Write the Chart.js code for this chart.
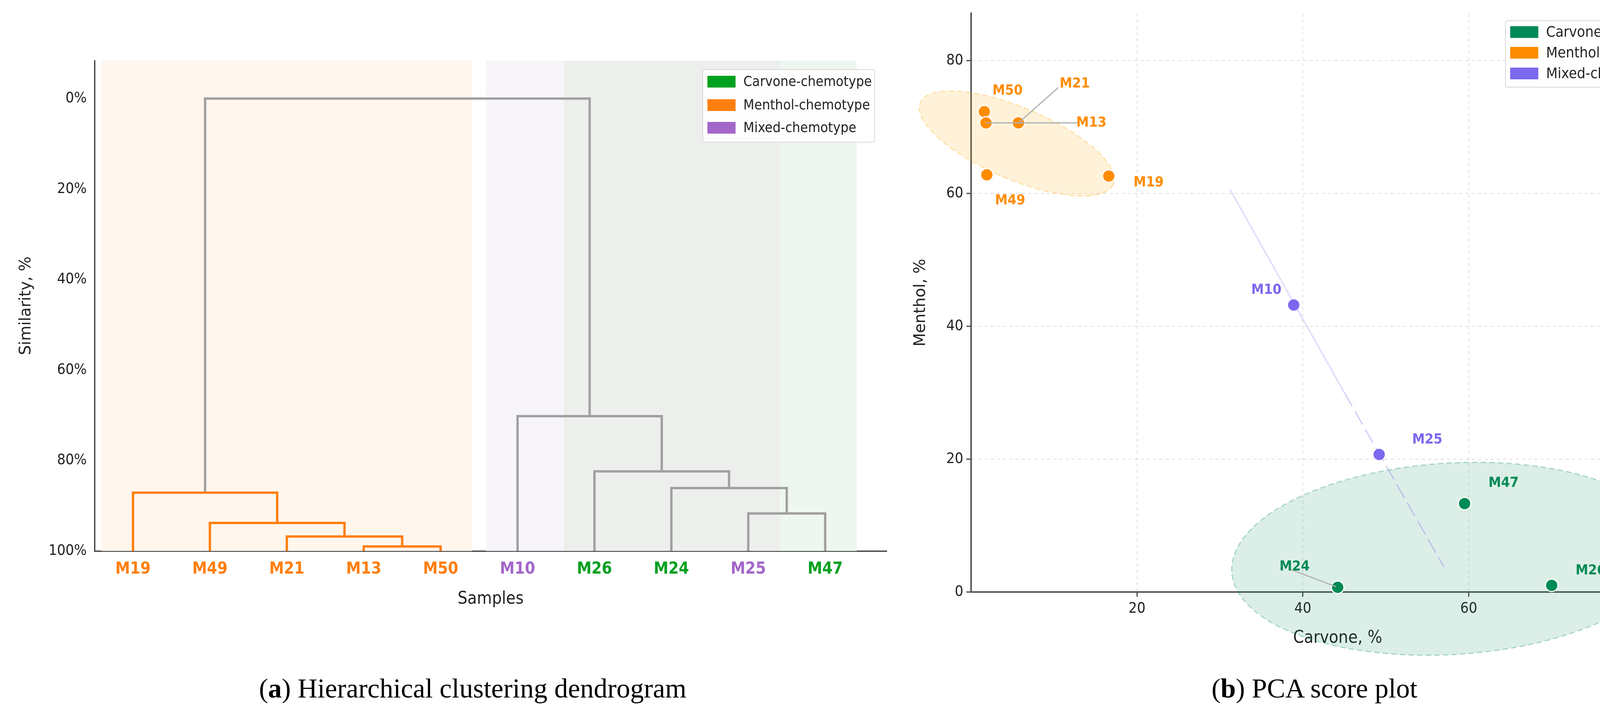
<!DOCTYPE html>
<html>
<head>
<meta charset="utf-8">
<script src="https://cdn.jsdelivr.net/npm/chart.js@4"></script>
<style>
  body { margin: 0; width: 4382px; height: 1840px; background: #fff; position: relative; overflow: hidden; }
  canvas { position: absolute; }
  .cap { position: absolute; top: 1722px; font-family: 'Liberation Serif', serif; font-size: 70px; color: #000; white-space: nowrap; transform: translateX(-50%); }
</style>
</head>
<body>
<canvas id="chartDendro" width="2260" height="1560" style="left:40px;top:0;width:2260px;height:1560px"></canvas>
<canvas id="chartPca" width="2052" height="1700" style="left:2330px;top:0;width:2052px;height:1700px"></canvas>
<div class="cap" style="left:1210px">(<b>a</b>) Hierarchical clustering dendrogram</div>
<div class="cap" style="left:3365px">(<b>b</b>) PCA score plot</div>
<script>
// ---- dendrogram data ----
var leafNames = ['M19', 'M49', 'M21', 'M13', 'M50', 'M10', 'M26', 'M24', 'M25', 'M47'];
var leafGroup = ['Menthol', 'Menthol', 'Menthol', 'Menthol', 'Menthol', 'Mixed', 'Carvone', 'Carvone', 'Mixed', 'Carvone'];
// merges: node ids 0-9 are leaves, 10+ are merges in order
var mergeA = [3, 2, 1, 0, 8, 7, 6, 5, 13];
var mergeB = [4, 10, 11, 12, 9, 14, 15, 16, 17];
var mergeHeight = [99.0, 96.8, 93.8, 87.1, 91.7, 86.1, 82.4, 70.2, 0];
var mergeColor = ['orange', 'orange', 'orange', 'orange', 'grey', 'grey', 'grey', 'grey', 'grey'];
var similarityTicks = [0, 20, 40, 60, 80, 100];
var bandStart = [0.09, 5.09, 6.10, 8.91];
var bandEnd = [4.91, 6.10, 8.91, 9.91];
var bandColor = ['#fff6ee', '#f8f5fa', '#ecefec', '#eef7ef'];

// ---- PCA data ----
var carvoneNames = ['M24', 'M47', 'M26'];
var carvoneX = [44.2, 59.5, 70.0];
var carvoneY = [0.7, 13.3, 1.0];
var mentholNames = ['M50', 'M13', 'M21', 'M49', 'M19'];
var mentholX = [1.6, 1.8, 5.7, 1.9, 16.6];
var mentholY = [72.3, 70.6, 70.6, 62.8, 62.6];
var mixedNames = ['M10', 'M25'];
var mixedX = [38.9, 49.2];
var mixedY = [43.2, 20.7];
var labelNames = ['M50', 'M21', 'M13', 'M19', 'M49', 'M10', 'M25', 'M47', 'M24', 'M26'];
var labelX = [4.4, 12.5, 14.5, 21.4, 4.7, 35.6, 55.0, 64.2, 39.0, 74.7];
var labelY = [75.4, 76.5, 70.6, 61.6, 58.9, 45.4, 22.9, 16.4, 3.8, 3.2];
var labelGroup = ['Menthol', 'Menthol', 'Menthol', 'Menthol', 'Menthol', 'Mixed', 'Mixed', 'Carvone', 'Carvone', 'Carvone'];
var leaderX1 = [5.7, 1.8, 44.0];
var leaderY1 = [70.6, 70.6, 0.8];
var leaderX2 = [10.5, 12.8, 38.5];
var leaderY2 = [75.9, 70.6, 3.4];
var trendX = [31.2, 45.0, 57.0];
var trendY = [60.6, 30.0, 3.8];
var pcaTicks = [0, 20, 40, 60, 80];

var dendroColors = { Menthol: '#ff7f0e', Mixed: '#a366c9', Carvone: '#00a020', orange: '#ff7f0e', grey: '#a0a0a0' };
var pcaColors = { Menthol: '#ff8c00', Mixed: '#7b68ee', Carvone: '#008a55' };
var condensed = "'DejaVu Sans Condensed', 'Liberation Sans Narrow', 'DejaVu Sans', sans-serif";

function drawLegend(ctx, box, rows, names, colors, font) {
    ctx.save();
    ctx.fillStyle = 'rgba(255,255,255,0.85)';
    ctx.strokeStyle = '#d8d8d8';
    ctx.lineWidth = 2;
    ctx.beginPath();
    ctx.roundRect(box[0], box[1], box[2], box[3], 6);
    ctx.fill();
    ctx.stroke();
    ctx.font = font;
    ctx.textBaseline = 'middle';
    for (var i = 0; i < names.length; i++) {
        ctx.fillStyle = colors[i];
        ctx.fillRect(box[0] + 12, rows[i] - 15, 72, 30);
        ctx.fillStyle = '#222';
        ctx.fillText(names[i], box[0] + 104, rows[i] + 2);
    }
    ctx.restore();
}

function getDendrogram() {
    var ctx = document.getElementById('chartDendro').getContext('2d');
    var nodeX = leafNames.map(function (n, i) { return i + 0.5; });
    var nodeH = leafNames.map(function () { return 100; });
    var datasets = [];
    for (var m = 0; m < mergeA.length; m++) {
        var a = mergeA[m], b = mergeB[m], h = mergeHeight[m];
        datasets.push({
            data: [{ x: nodeX[a], y: nodeH[a] }, { x: nodeX[a], y: h }, { x: nodeX[b], y: h }, { x: nodeX[b], y: nodeH[b] }],
            showLine: true, borderColor: dendroColors[mergeColor[m]], borderWidth: 6, pointRadius: 0, fill: false
        });
        nodeX.push((nodeX[a] + nodeX[b]) / 2);
        nodeH.push(h);
    }

    var bandsPlugin = {
        id: 'bands',
        beforeDatasetsDraw: function (chart) {
            var c = chart.ctx, xs = chart.scales.x;
            c.save();
            for (var i = 0; i < bandStart.length; i++) {
                c.fillStyle = bandColor[i];
                var x1 = xs.getPixelForValue(bandStart[i]), x2 = xs.getPixelForValue(bandEnd[i]);
                c.fillRect(x1, chart.chartArea.top, x2 - x1, chart.chartArea.bottom - chart.chartArea.top);
            }
            c.restore();
        },
        afterDraw: function (chart) {
            drawLegend(chart.ctx, [1759, 178, 440, 186], [209, 269, 327],
                ['Carvone-chemotype', 'Menthol-chemotype', 'Mixed-chemotype'],
                [dendroColors.Carvone, dendroColors.Menthol, dendroColors.Mixed], '36px ' + condensed);
        }
    };

    new Chart(ctx, {
        type: 'scatter',
        data: { datasets: datasets },
        plugins: [bandsPlugin],
        options: {
            responsive: false, animation: false, devicePixelRatio: 1,
            layout: { padding: { top: 155, right: 30, left: 0, bottom: 0 } },
            plugins: { legend: { display: false }, tooltip: { enabled: false } },
            scales: {
                x: {
                    type: 'linear', min: 0, max: 10.3,
                    afterBuildTicks: function (s) { s.ticks = leafNames.map(function (n, i) { return { value: i + 0.5 }; }); },
                    afterFit: function (s) { s.height = 150; },
                    grid: { display: false, drawTicks: false },
                    border: { color: '#333', width: 3 },
                    ticks: {
                        padding: 22,
                        font: { family: condensed, size: 42, weight: 'bold' },
                        color: function (c) { return dendroColors[leafGroup[c.index]]; },
                        callback: function (v, i) { return leafNames[i]; }
                    },
                    title: { display: true, text: 'Samples', color: '#222', font: { family: condensed, size: 44 }, padding: 0 }
                },
                y: {
                    type: 'linear', reverse: true, min: -8.4, max: 100,
                    afterBuildTicks: function (s) { s.ticks = similarityTicks.map(function (v) { return { value: v }; }); },
                    afterFit: function (s) { s.width = 202; },
                    grid: { display: false, drawTicks: true, tickLength: 12, tickColor: '#333', tickWidth: 3 },
                    border: { color: '#333', width: 3 },
                    ticks: { padding: 8, color: '#222', font: { family: condensed, size: 38 }, callback: function (v) { return v + '%'; } },
                    title: { display: true, text: 'Similarity, %', color: '#222', font: { family: 'DejaVu Sans', size: 40 }, padding: 4 }
                }
            }
        }
    });
}

function getPca() {
    var ctx = document.getElementById('chartPca').getContext('2d');
    function pts(xs, ys) { return xs.map(function (x, i) { return { x: x, y: ys[i] }; }); }
    var datasets = [];
    for (var i = 0; i < leaderX1.length; i++) {
        datasets.push({ data: [{ x: leaderX1[i], y: leaderY1[i] }, { x: leaderX2[i], y: leaderY2[i] }], showLine: true, borderColor: '#b0b0b0', borderWidth: 3, pointRadius: 0 });
    }
    datasets.push({ data: pts(trendX.slice(0, 2), trendY.slice(0, 2)), showLine: true, borderColor: 'rgba(123,104,238,0.22)', borderWidth: 4, pointRadius: 0 });
    datasets.push({ data: pts(trendX.slice(1), trendY.slice(1)), showLine: true, borderColor: 'rgba(123,104,238,0.28)', borderWidth: 4, borderDash: [40, 14], pointRadius: 0 });
    [['Carvone', carvoneX, carvoneY], ['Menthol', mentholX, mentholY], ['Mixed', mixedX, mixedY]].forEach(function (g) {
        datasets.push({ data: pts(g[1], g[2]), showLine: false, backgroundColor: pcaColors[g[0]], borderColor: '#fff', borderWidth: 3, pointRadius: 16 });
    });

    var pcaPlugin = {
        id: 'pcaExtras',
        beforeDatasetsDraw: function (chart) {
            var c = chart.ctx, xs = chart.scales.x, ys = chart.scales.y;
            // cluster ellipses: centre in data units, half axes / angle in pixels
            var ell = [
                [5.5, 67.5, 268, 92, 0.40, 'rgba(255,165,0,0.15)', 'rgba(255,165,0,0.3)'],
                [57.9, 5.0, 563, 245, -0.06, 'rgba(0,138,85,0.14)', 'rgba(0,138,85,0.3)']
            ];
            c.save();
            ell.forEach(function (e) {
                c.beginPath();
                c.ellipse(xs.getPixelForValue(e[0]), ys.getPixelForValue(e[1]), e[2], e[3], e[4], 0, Math.PI * 2);
                c.fillStyle = e[5];
                c.fill();
                c.setLineDash([14, 8]);
                c.strokeStyle = e[6];
                c.lineWidth = 3;
                c.stroke();
            });
            c.restore();
        },
        afterDatasetsDraw: function (chart) {
            var c = chart.ctx, xs = chart.scales.x, ys = chart.scales.y;
            c.save();
            c.font = 'bold 36px ' + condensed;
            c.textAlign = 'center';
            c.textBaseline = 'middle';
            for (var i = 0; i < labelNames.length; i++) {
                c.fillStyle = pcaColors[labelGroup[i]];
                c.fillText(labelNames[i], xs.getPixelForValue(labelX[i]), ys.getPixelForValue(labelY[i]));
            }
            c.restore();
        },
        afterDraw: function (chart) {
            drawLegend(chart.ctx, [1524, 53, 505, 170], [82, 135, 188],
                ['Carvone-chemotype', 'Menthol-chemotype', 'Mixed-chemotype'],
                [pcaColors.Carvone, pcaColors.Menthol, pcaColors.Mixed], '38px ' + condensed);
        }
    };

    var gridOpts = { color: 'rgba(0,0,0,0.13)', lineWidth: 2, tickLength: 12, tickColor: '#444', tickWidth: 3, tickBorderDash: [0, 0] };
    new Chart(ctx, {
        type: 'scatter',
        data: { datasets: datasets },
        plugins: [pcaPlugin],
        options: {
            responsive: false, animation: false, devicePixelRatio: 1,
            clip: false,
            layout: { padding: { top: 34, right: 4, left: 0, bottom: 0 } },
            plugins: { legend: { display: false }, tooltip: { enabled: false } },
            scales: {
                x: {
                    type: 'linear', min: 0, max: 88.4,
                    afterBuildTicks: function (s) { s.ticks = pcaTicks.slice(1).map(function (v) { return { value: v }; }); },
                    afterFit: function (s) { s.height = 185; },
                    grid: gridOpts,
                    border: { color: '#555', width: 4, dash: [8, 8] },
                    ticks: { padding: 8, color: '#222', font: { family: condensed, size: 38 } },
                    title: { display: true, text: 'Carvone, %', color: '#222', font: { family: condensed, size: 44 }, padding: { top: 0, bottom: 40 } }
                },
                y: {
                    type: 'linear', min: 0, max: 87.1,
                    afterBuildTicks: function (s) { s.ticks = pcaTicks.map(function (v) { return { value: v }; }); },
                    afterFit: function (s) { s.width = 156; },
                    grid: gridOpts,
                    border: { color: '#555', width: 4, dash: [8, 8] },
                    ticks: { padding: 8, color: '#222', font: { family: condensed, size: 38 } },
                    title: { display: true, text: 'Menthol, %', color: '#222', font: { family: 'DejaVu Sans', size: 40 }, padding: 4 }
                }
            }
        }
    });
}

getDendrogram();
getPca();
</script>
</body>
</html>
